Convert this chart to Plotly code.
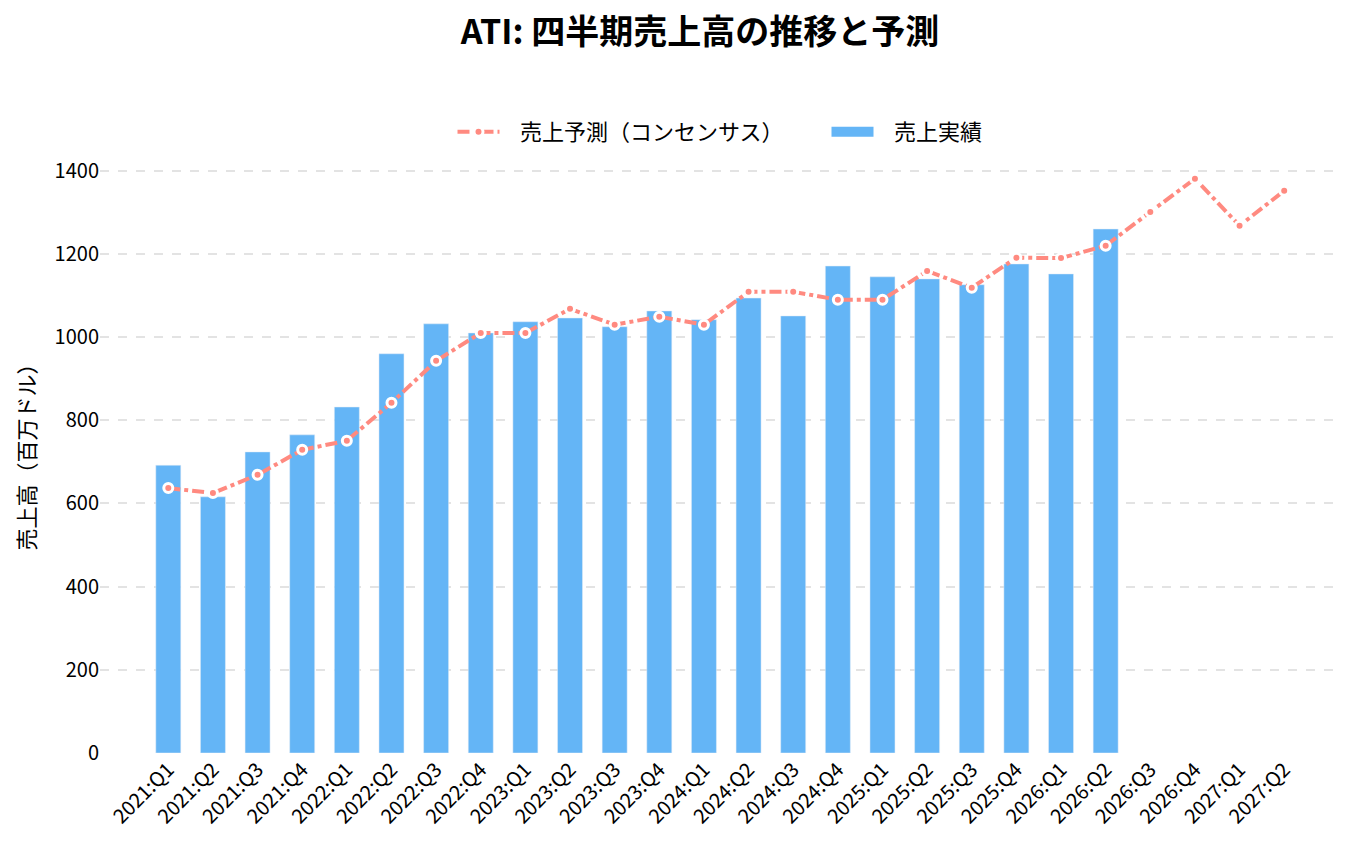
import plotly.graph_objects as go

quarters = [
    "2021:Q1", "2021:Q2", "2021:Q3", "2021:Q4",
    "2022:Q1", "2022:Q2", "2022:Q3", "2022:Q4",
    "2023:Q1", "2023:Q2", "2023:Q3", "2023:Q4",
    "2024:Q1", "2024:Q2", "2024:Q3", "2024:Q4",
    "2025:Q1", "2025:Q2", "2025:Q3", "2025:Q4",
    "2026:Q1", "2026:Q2", "2026:Q3", "2026:Q4",
    "2027:Q1", "2027:Q2",
]

# 実績（2026:Q2まで）
actual = [692, 616, 724, 765, 832, 960, 1032, 1010, 1037, 1046, 1025, 1063,
          1042, 1094, 1051, 1171, 1145, 1140, 1126, 1176, 1152, 1260]

# コンセンサス予測
forecast = [637, 625, 669, 729, 751, 842, 943, 1010, 1010, 1068, 1030, 1049,
            1030, 1109, 1109, 1090, 1090, 1159, 1119, 1191, 1190, 1220,
            1301, 1381, 1268, 1352]

font_jp = "Noto Sans CJK JP"
bar_color = "#64B5F6"
line_color = "#FF8A80"

line = go.Scatter(
    x=quarters,
    y=forecast,
    name="\u2002\u2009売上予測（コンセンサス）",
    mode="lines+markers",
    line=dict(color=line_color, width=4, dash="dashdot"),
    marker=dict(size=9, color=line_color, line=dict(color="white", width=3)),
    legendwidth=317,
)

bars = go.Bar(
    x=quarters[:len(actual)],
    y=actual,
    name="売上実績",
    marker=dict(color=bar_color),
    width=0.56,
    showlegend=False,
    legendgroup="actual",
)

# 凡例用（横長の矩形を出すため）
bar_key = go.Scatter(
    x=[None], y=[None],
    name="\u2002\u2009売上実績",
    mode="lines",
    line=dict(color=bar_color, width=16),
    legendgroup="actual",
)

fig = go.Figure(data=[line, bars, bar_key])

fig.update_layout(
    width=1356, height=846,
    autosize=False,
    paper_bgcolor="white",
    plot_bgcolor="white",
    font=dict(family=font_jp, size=20, color="black"),
    margin=dict(l=92, r=24, t=142, b=101, autoexpand=False),
    title=dict(
        text="<b>ATI: 四半期売上高の推移と予測</b>",
        font=dict(family=font_jp, size=34, color="black"),
        x=692 / 1356, xanchor="center",
        y=1 - 24 / 846, yanchor="middle",
    ),
    legend=dict(
        orientation="h",
        x=0.5, xanchor="center",
        y=1.03, yanchor="middle",
        font=dict(family=font_jp, size=22),
        itemwidth=42,
    ),
    showlegend=True,
)

fig.update_xaxes(
    type="category",
    categoryorder="array",
    categoryarray=quarters,
    range=[-1.53, 26.25],
    tickangle=-45,
    showgrid=False,
    showline=False,
    ticks="",
    tickfont=dict(size=20),
)

fig.update_yaxes(
    range=[0, 1450],
    dtick=200,
    showgrid=True,
    gridcolor="#e3e3e3",
    griddash="dash",
    gridwidth=1.5,
    zeroline=False,
    showline=False,
    ticks="",
    tickfont=dict(size=20),
    title=dict(text="売上高（百万ドル）", font=dict(size=22), standoff=12),
)

fig.write_html("out.html")
